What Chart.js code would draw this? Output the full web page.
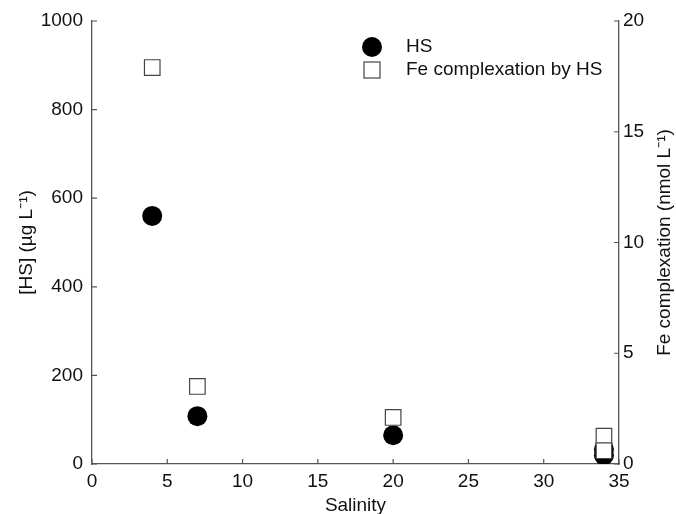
<!DOCTYPE html>
<html>
<head>
<meta charset="utf-8">
<script src="https://cdn.jsdelivr.net/npm/chart.js@4"></script>
<style>
  body { margin: 0; background: #fff; }
  #wrap { width: 676px; height: 514px; }
</style>
</head>
<body>
<div id="wrap"><canvas id="hs" width="676" height="514"></canvas></div>
<script>
// Salinity vs HS and Fe complexation

var hsSalinity = [4, 7, 20, 34, 34];
var hsValues = [560, 108, 65, 33, 20];

var feSalinity = [4, 7, 20, 34, 34];
var feValues = [17.9, 3.5, 2.1, 1.26, 0.6];

var xTicks = [0, 5, 10, 15, 20, 25, 30, 35];
var leftTicks = [0, 200, 400, 600, 800, 1000];
var rightTicks = [0, 5, 10, 15, 20];

var axisColor = '#555';
var textFont = { family: 'Liberation Sans, Arial, sans-serif', size: 19 };

function pairs(xs, ys) {
    return xs.map(function (x, i) { return { x: x, y: ys[i] }; });
}

function plain(v) { return String(v); }

// short ticks drawn inwards, like the original
var innerTicks = {
    id: 'innerTicks',
    afterDraw: function (chart) {
        var ctx = chart.ctx;
        var a = chart.chartArea;
        ctx.save();
        ctx.strokeStyle = axisColor;
        ctx.lineWidth = 1.2;
        ctx.beginPath();
        chart.scales.x.ticks.forEach(function (t) {
            var px = chart.scales.x.getPixelForValue(t.value);
            ctx.moveTo(px, a.bottom);
            ctx.lineTo(px, a.bottom - 5);
        });
        chart.scales.y.ticks.forEach(function (t) {
            var py = chart.scales.y.getPixelForValue(t.value);
            ctx.moveTo(a.left, py);
            ctx.lineTo(a.left + 5, py);
        });
        chart.scales.y1.ticks.forEach(function (t) {
            var py = chart.scales.y1.getPixelForValue(t.value);
            ctx.moveTo(a.right, py);
            ctx.lineTo(a.right - 5, py);
        });
        ctx.stroke();
        ctx.restore();
    }
};

// legend inside the plot, right axis title read bottom to top
var extras = {
    id: 'extras',
    afterDraw: function (chart) {
        var ctx = chart.ctx;
        var a = chart.chartArea;
        ctx.save();
        ctx.fillStyle = '#000';
        ctx.beginPath();
        ctx.arc(372, 47, 10, 0, Math.PI * 2);
        ctx.fill();
        ctx.fillStyle = '#fff';
        ctx.strokeStyle = '#444';
        ctx.lineWidth = 1.2;
        ctx.fillRect(364, 62, 16, 16);
        ctx.strokeRect(364, 62, 16, 16);
        ctx.fillStyle = '#111';
        ctx.font = textFont.size + 'px ' + textFont.family;
        ctx.textBaseline = 'middle';
        ctx.fillText('HS', 406, 47);
        ctx.fillText('Fe complexation by HS', 406, 70);

        ctx.translate(665, (a.top + a.bottom) / 2);
        ctx.rotate(-Math.PI / 2);
        ctx.textAlign = 'center';
        ctx.fillText('Fe complexation (nmol L⁻¹)', 0, 0);
        ctx.restore();
    }
};

var ctx = document.getElementById('hs').getContext('2d');
var chart = new Chart(ctx, {
    type: 'scatter',
    data: {
        datasets: [{
            label: 'HS',
            data: pairs(hsSalinity, hsValues),
            yAxisID: 'y',
            pointStyle: 'circle',
            pointRadius: 10,
            backgroundColor: '#000',
            borderColor: '#000',
            borderWidth: 0,
            order: 2
        }, {
            label: 'Fe complexation by HS',
            data: pairs(feSalinity, feValues),
            yAxisID: 'y1',
            pointStyle: 'rect',
            pointRadius: 11,
            backgroundColor: '#fff',
            borderColor: '#444',
            borderWidth: 1.2,
            order: 1
        }]
    },
    options: {
        responsive: false,
        animation: false,
        layout: { padding: { top: 21, left: 0, right: 0, bottom: 0 } },
        plugins: {
            legend: { display: false },
            tooltip: { enabled: false }
        },
        scales: {
            x: {
                type: 'linear',
                min: 0,
                max: 35,
                afterBuildTicks: function (s) { s.ticks = xTicks.map(function (v) { return { value: v }; }); },
                afterFit: function (s) { s.height = 50; },
                grid: { display: false, drawTicks: false },
                border: { color: axisColor, width: 1.3 },
                ticks: { color: '#111', font: textFont, padding: 6, maxRotation: 0, callback: plain },
                title: { display: true, text: 'Salinity', color: '#111', font: textFont, padding: { top: 0, bottom: -3 } }
            },
            y: {
                type: 'linear',
                position: 'left',
                min: 0,
                max: 1000,
                afterBuildTicks: function (s) { s.ticks = leftTicks.map(function (v) { return { value: v }; }); },
                afterFit: function (s) { s.width = 92; },
                grid: { display: false, drawTicks: false },
                border: { color: axisColor, width: 1.3 },
                ticks: { color: '#111', font: textFont, padding: 9, callback: plain },
                title: { display: true, text: '[HS] (µg L⁻¹)', color: '#111', font: textFont, padding: { top: 15, bottom: 0 } }
            },
            y1: {
                type: 'linear',
                position: 'right',
                min: 0,
                max: 20,
                afterBuildTicks: function (s) { s.ticks = rightTicks.map(function (v) { return { value: v }; }); },
                afterFit: function (s) { s.width = 57; },
                grid: { display: false, drawTicks: false },
                border: { color: axisColor, width: 1.3 },
                ticks: { color: '#111', font: textFont, padding: 4, callback: plain }
            }
        }
    },
    plugins: [innerTicks, extras]
});
</script>
</body>
</html>
